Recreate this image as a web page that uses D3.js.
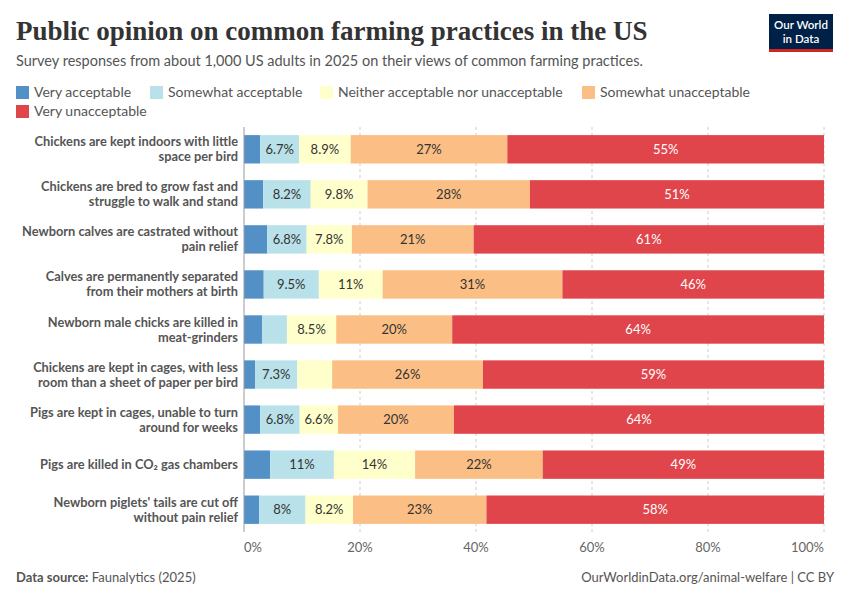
<!DOCTYPE html>
<html><head><meta charset="utf-8">
<script src="https://cdn.jsdelivr.net/npm/d3@7"></script>
<style>body{margin:0;background:#fff}text{font-family:Lato,"Noto Sans",sans-serif}</style>
</head><body><svg id="chart"></svg>
<script>
const categories = [
  ["Chickens are kept indoors with little", "space per bird"],
  ["Chickens are bred to grow fast and", "struggle to walk and stand"],
  ["Newborn calves are castrated without", "pain relief"],
  ["Calves are permanently separated", "from their mothers at birth"],
  ["Newborn male chicks are killed in", "meat-grinders"],
  ["Chickens are kept in cages, with less", "room than a sheet of paper per bird"],
  ["Pigs are kept in cages, unable to turn", "around for weeks"],
  ["Pigs are killed in CO₂ gas chambers"],
  ["Newborn piglets' tails are cut off", "without pain relief"]
];
const seriesNames = ["Very acceptable","Somewhat acceptable","Neither acceptable nor unacceptable","Somewhat unacceptable","Very unacceptable"];
const veryAcceptable = [2.8,3.3,4,3.4,3.1,1.9,2.8,4.5,2.6];
const somewhatAcceptable = [6.7,8.2,6.8,9.5,4.3,7.3,6.8,11,8];
const neither = [8.9,9.8,7.8,11,8.5,6,6.6,14,8.2];
const somewhatUnacceptable = [27,28,21,31,20,26,20,22,23];
const veryUnacceptable = [55,51,61,46,64,59,64,49,58];
const xTicks = [0,20,40,60,80,100];
const colors = ["#5390c6","#b9e1ea","#ffffcc","#fbbe84","#e0454b"];

const W = 850, H = 600;
const svg = d3.select("#chart").attr("width", W).attr("height", H);
const series = [veryAcceptable, somewhatAcceptable, neither, somewhatUnacceptable, veryUnacceptable];

svg.append("text").attr("x",16).attr("y",40).style("font-family","'Liberation Serif',serif")
  .attr("font-size",27).attr("font-weight",700).attr("fill","#333").text("Public opinion on common farming practices in the US");
svg.append("text").attr("x",16).attr("y",66).attr("font-size",14.5).attr("fill","#555")
  .text("Survey responses from about 1,000 US adults in 2025 on their views of common farming practices.");

// logo
const logo = svg.append("g").attr("transform","translate(769,14)");
logo.append("rect").attr("width",64).attr("height",36).attr("fill","#002147");
logo.append("rect").attr("y",35).attr("width",64).attr("height",3).attr("fill","#ce261e");
logo.append("text").attr("x",32).attr("y",15).attr("text-anchor","middle").attr("fill","#fff").attr("font-size",11.5).attr("font-weight",600).text("Our World");
logo.append("text").attr("x",32).attr("y",29).attr("text-anchor","middle").attr("fill","#fff").attr("font-size",11.5).attr("font-weight",600).text("in Data");

// legend
const legendPos = [[16,92],[150,92],[320,92],[582,92],[16,111]];
seriesNames.forEach((n,i)=>{
  const g = svg.append("g").attr("transform",`translate(${legendPos[i][0]},${legendPos[i][1]})`);
  g.append("rect").attr("y",-6).attr("width",13).attr("height",13).attr("fill",colors[i]);
  g.append("text").attr("x",18).attr("y",5).attr("font-size",14).attr("fill","#555").text(n);
});

const x = d3.scaleLinear().domain([0,100]).range([244,824]).clamp(true);
const y = d3.scaleBand().domain(d3.range(categories.length)).range([127,532]).paddingInner(0.37).paddingOuter(0.18);

svg.append("g").selectAll("line").data(xTicks.slice(1)).join("line")
  .attr("x1",d=>x(d)).attr("x2",d=>x(d)).attr("y1",127).attr("y2",532)
  .attr("stroke","#ccc").attr("stroke-dasharray","3,3");

categories.forEach((c,r)=>{
  let x0 = 0;
  series.forEach((s,i)=>{
    const v = s[r];
    const x1 = i === series.length-1 ? 100 : x0+v;
    svg.append("rect").attr("x",x(x0)).attr("y",y(r)).attr("width",x(x1)-x(x0)).attr("height",y.bandwidth()).attr("fill",colors[i]);
    if (v >= 6.5) {
      svg.append("text").attr("x",(x(x0)+x(x1))/2).attr("y",y(r)+y.bandwidth()/2+4.5)
        .attr("text-anchor","middle").attr("font-size",13).attr("fill",i===4?"#fff":"#333")
        .text(d3.format("~r")(+v.toPrecision(2))+"%");
    }
    x0 += v;
  });
  const cy = y(r)+y.bandwidth()/2;
  const t = svg.append("text").attr("text-anchor","end").attr("font-size",12.8).attr("font-weight",700).attr("fill","#555");
  c.forEach((line,k)=>{
    t.append("tspan").attr("x",238).attr("y",cy+4.5+(k-(c.length-1)/2)*15).text(line);
  });
});

svg.append("line").attr("x1",x(0)).attr("x2",x(0)).attr("y1",127).attr("y2",532).attr("stroke","#999");
svg.append("g").selectAll("text").data(xTicks).join("text")
  .attr("x",d=>x(d)).attr("y",552).attr("text-anchor",(d,i)=>i===0?"start":i===xTicks.length-1?"end":"middle")
  .attr("font-size",13).attr("fill","#666").text(d=>d+"%");

svg.append("text").attr("x",16).attr("y",582).attr("font-size",13).attr("fill","#555")
  .html('<tspan font-weight="700">Data source:</tspan> Faunalytics (2025)');
svg.append("text").attr("x",834).attr("y",582).attr("text-anchor","end").attr("font-size",13).attr("fill","#555")
  .text("OurWorldinData.org/animal-welfare | CC BY");
</script></body></html>
